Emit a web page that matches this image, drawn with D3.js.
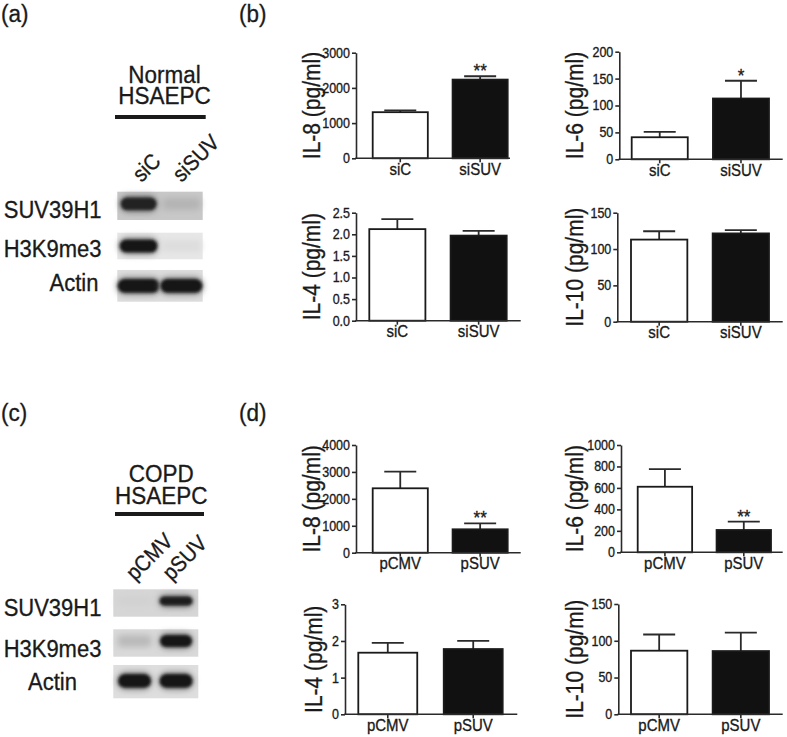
<!DOCTYPE html>
<html><head><meta charset="utf-8">
<script src="https://cdn.jsdelivr.net/npm/d3@7"></script>
<style>
html,body{margin:0;padding:0;background:#fff;}
svg{display:block;font-family:"Liberation Sans",Arial,Helvetica,sans-serif;font-stretch:normal;}
svg text{stroke:#1a1a1a;stroke-width:0.3px;}
</style></head><body>
<svg id="c" width="787" height="737"></svg>
<script>
// ---------------- data ----------------
const groupsB = ["siC", "siSUV"];
const groupsD = ["pCMV", "pSUV"];
const cytokines = ["IL-8", "IL-6", "IL-4", "IL-10"];
const meanB = [[1310, 2236], [41, 113], [2.12, 1.97], [113, 121.5]];
const semB  = [[50, 95], [10, 33], [0.23, 0.11], [11.5, 4.5]];
const sigB  = [["", "**"], ["", "*"], ["", ""], ["", ""]];
const meanD = [[2392, 869], [611, 208], [1.68, 1.78], [86.5, 86]];
const semD  = [[616, 223], [165, 77], [0.27, 0.22], [22, 25]];
const sigD  = [["", "**"], ["", "**"], ["", ""], ["", ""]];
const yMaxB  = [3000, 200, 2.5, 150];
const yStepB = [1000, 50, 0.5, 50];
const yMaxD  = [4000, 1000, 3, 150];
const yStepD = [1000, 200, 1, 50];
const blotRows = ["SUV39H1", "H3K9me3", "Actin"];
const blotIntensityA = [[0.92, 0.12], [0.97, 0.05], [0.97, 0.97]];
const blotIntensityC = [[0.03, 0.95], [0.18, 0.97], [0.97, 0.97]];

// ---------------- layout ----------------
const SY = 1.1; // vertical glyph stretch
const svg = d3.select("#c");
const INK = "#1a1a1a";
const AX = "#2a2a2a";

const defs = svg.append("defs");
defs.append("filter").attr("id", "blur").attr("x", "-30%").attr("y", "-60%").attr("width", "160%").attr("height", "220%")
  .append("feGaussianBlur").attr("stdDeviation", 1.6);
defs.append("filter").attr("id", "blur2").attr("x", "-30%").attr("y", "-60%").attr("width", "160%").attr("height", "220%")
  .append("feGaussianBlur").attr("stdDeviation", 3);

function txt(g, x, y, s, o) {
  o = o || {};
  return g.append("text")
    .attr("transform", `translate(${x},${y}) rotate(${o.rotate || 0}) scale(1,${SY})`)
    .attr("text-anchor", o.anchor || "start")
    .attr("font-size", o.size || 14)
    .attr("fill", o.fill || INK)
    .text(s);
}

// panel labels
txt(svg, 1, 21.5, "(a)", {size: 22.5});
txt(svg, 239, 21.5, "(b)", {size: 22.5});
txt(svg, 1, 421, "(c)", {size: 22.5});
txt(svg, 239, 421, "(d)", {size: 22.5});

// ---------------- bar charts ----------------
const layB = [
  {x0: 356, xEnd: 510, yTop: 52.7, yZero: 158.3, bl: 372.7, br: 507.7, lx: 312},
  {x0: 619.3, xEnd: 782.7, yTop: 51.7, yZero: 159.3, bl: 631.7, br: 769, lx: 575},
  {x0: 356, xEnd: 520.7, yTop: 212.7, yZero: 320.7, bl: 369.3, br: 506.7, lx: 312},
  {x0: 617.3, xEnd: 782.7, yTop: 212.7, yZero: 321.7, bl: 631, br: 769, lx: 575}
];
const layD = [
  {x0: 356, xEnd: 520.7, yTop: 445, yZero: 552.7, bl: 372.7, br: 507.7, lx: 312},
  {x0: 621, xEnd: 782.7, yTop: 445, yZero: 552.3, bl: 637.7, br: 771, lx: 575},
  {x0: 345, xEnd: 517.3, yTop: 604.3, yZero: 714.3, bl: 358.3, br: 502.7, lx: 314},
  {x0: 618.3, xEnd: 782.7, yTop: 604, yZero: 714.3, bl: 631, br: 769, lx: 575}
];

function barChart(L, name, groups, means, sems, sigs, yMax, yStep) {
  const g = svg.append("g");
  const y = d3.scaleLinear().domain([0, yMax]).range([L.yZero, L.yTop]);
  const x = d3.scaleBand().domain(groups).range([L.bl, L.br]).paddingInner(0.31).paddingOuter(0);
  const fmt = yStep < 1 ? d3.format(".1f") : d3.format("d");
  const ticks = d3.range(0, yMax + yStep / 2, yStep);

  const fills = ["#fff", "#111"];
  groups.forEach((c, i) => {
    const cx = x(c) + x.bandwidth() / 2;
    const top = y(means[i]);
    const et = y(means[i] + sems[i]);
    g.append("line").attr("x1", cx).attr("x2", cx).attr("y1", top).attr("y2", et)
      .attr("stroke", AX).attr("stroke-width", 1.8);
    g.append("line").attr("x1", cx - 16).attr("x2", cx + 16).attr("y1", et).attr("y2", et)
      .attr("stroke", AX).attr("stroke-width", 1.8);
    g.append("rect").attr("x", x(c)).attr("y", top).attr("width", x.bandwidth()).attr("height", L.yZero - top)
      .attr("fill", fills[i]).attr("stroke", "#1a1a1a").attr("stroke-width", 1.8);
    if (sigs[i]) txt(g, cx, et + 1, sigs[i], {size: 17, anchor: "middle"});
    g.append("line").attr("x1", cx).attr("x2", cx).attr("y1", L.yZero).attr("y2", L.yZero + 4)
      .attr("stroke", AX).attr("stroke-width", 1.6);
    txt(g, cx, L.yZero + 16.5, c, {size: 15, anchor: "middle"});
  });

  const ax = g.append("g").attr("transform", `translate(${L.x0},0)`)
    .call(d3.axisLeft(y).tickValues(ticks).tickFormat(fmt).tickSize(4).tickSizeOuter(0).tickPadding(2));
  ax.select(".domain").attr("stroke", AX).attr("stroke-width", 1.6);
  ax.selectAll(".tick line").attr("stroke", AX).attr("stroke-width", 1.6);
  ax.selectAll(".tick text").attr("font-size", 12.5).attr("fill", INK)
    .attr("font-family", '"Liberation Sans",Arial,sans-serif')
    .attr("transform", `scale(1,${SY})`);
  g.append("line").attr("x1", L.x0 - 0.8).attr("x2", L.xEnd).attr("y1", L.yZero).attr("y2", L.yZero)
    .attr("stroke", AX).attr("stroke-width", 1.6);

  txt(g, L.lx + 8.3, (L.yTop + L.yZero) / 2, name + " (pg/ml)", {size: 21, anchor: "middle", rotate: -90});
}

cytokines.forEach((name, k) => {
  barChart(layB[k], name, groupsB, meanB[k], semB[k], sigB[k], yMaxB[k], yStepB[k]);
  barChart(layD[k], name, groupsD, meanD[k], semD[k], sigD[k], yMaxD[k], yStepD[k]);
});

// ---------------- western blots ----------------
function blot(cfg, lanes, intens) {
  const g = svg.append("g");
  txt(g, cfg.hx, cfg.h1y, cfg.h1, {size: 22.5, anchor: "middle"});
  txt(g, cfg.hx, cfg.h2y, "HSAEPC", {size: 22.5, anchor: "middle"});
  g.append("rect").attr("x", cfg.ulx0).attr("y", cfg.uly - 2).attr("width", cfg.ulx1 - cfg.ulx0).attr("height", 4)
    .attr("fill", "#1a1a1a");
  const lx = d3.scaleBand().domain(lanes).range([cfg.x0, cfg.x1]);
  lanes.forEach((ln, i) => {
    txt(g, cfg.laneX[i], cfg.laneY, ln, {size: 20, rotate: -45});
  });
  blotRows.forEach((rn, r) => {
    const [ry0, ry1] = cfg.rows[r];
    const bg = cfg.bgs[r];
    g.append("rect").attr("x", cfg.x0).attr("y", ry0).attr("width", cfg.x1 - cfg.x0).attr("height", ry1 - ry0)
      .attr("fill", bg);
    lanes.forEach((ln, i) => {
      const v = intens[r][i];
      const cx = lx(ln) + lx.bandwidth() / 2 + cfg.laneShift[i];
      const cy = (ry0 + ry1) / 2 + cfg.bandDy[r];
      const h = cfg.bandH[r] * (0.6 + 0.4 * v);
      const w = cfg.bandW[r];
      const col = d3.interpolateRgb(bg, "#111")(v);
      if (v < 0.3) {
        g.append("rect").attr("x", cx - w / 2).attr("y", cy - h / 2 - 2).attr("width", w).attr("height", h + 4)
          .attr("rx", 4).attr("fill", d3.interpolateRgb(bg, "#111")(v * 0.9)).attr("filter", "url(#blur2)");
      } else {
        g.append("rect").attr("x", cx - w / 2).attr("y", cy - h / 2 - 2).attr("width", w).attr("height", h + 4)
          .attr("rx", (h + 4) / 2).attr("fill", d3.interpolateRgb(bg, "#111")(v * 0.45)).attr("filter", "url(#blur2)");
        g.append("rect").attr("x", cx - w / 2 + 1).attr("y", cy - h / 2).attr("width", w - 2).attr("height", h)
          .attr("rx", h / 2).attr("fill", col).attr("filter", "url(#blur)");
      }
    });
    txt(g, cfg.rlx[r], cfg.rly[r], rn, {size: 22, anchor: cfg.rla[r]});
  });
}

blot({
  h1: "Normal", hx: 164.5, h1y: 83, h2y: 104,
  ulx0: 115, ulx1: 205.7, uly: 117,
  laneX: [141.5, 181.5], laneY: 183,
  x0: 117.3, x1: 202.7,
  rows: [[191.7, 220], [232.7, 259.3], [270, 301.7]],
  bgs: ["#c8c8c8", "#e7e7e7", "#dddddd"],
  bandH: [13, 13, 14], bandDy: [-2, 0, 0], bandW: [38, 40, 44], laneShift: [0, 0],
  rlx: [101.5, 101.5, 98.5], rly: [218, 257, 291], rla: ["end", "end", "end"]
}, groupsB, blotIntensityA);

blot({
  h1: "COPD", hx: 161.3, h1y: 481.5, h2y: 504,
  ulx0: 115, ulx1: 204, uly: 514,
  laneX: [135, 171.5], laneY: 581.5,
  x0: 113.3, x1: 198.3,
  rows: [[589.3, 616.7], [629.3, 656.7], [665, 698.3]],
  bgs: ["#d6d6d6", "#d9d9d9", "#dedede"],
  bandH: [9, 12, 14], bandDy: [-2, -2, -0.7], bandW: [35, 34, 35], laneShift: [0, -1],
  rlx: [52.5, 52.5, 52.5], rly: [616, 657, 690], rla: ["middle", "middle", "middle"]
}, groupsD, blotIntensityC);
</script>
</body></html>
